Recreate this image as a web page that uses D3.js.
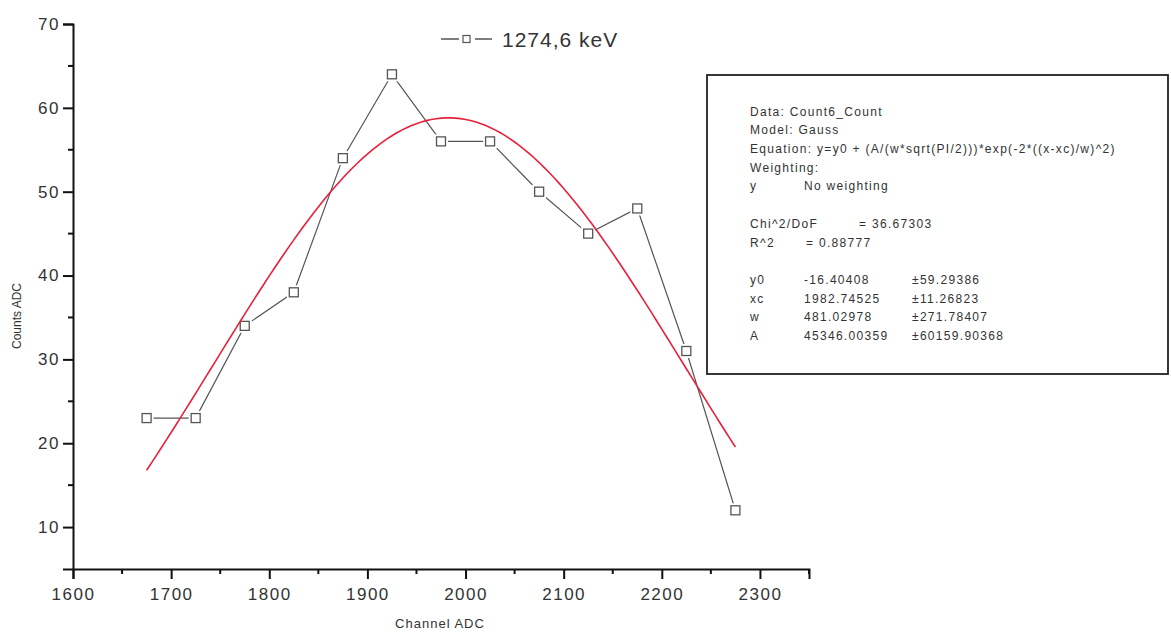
<!DOCTYPE html>
<html>
<head>
<meta charset="utf-8">
<script src="https://cdn.jsdelivr.net/npm/d3@7"></script>
<style>
  html, body { margin: 0; padding: 0; background: #fff; }
  svg { display: block; font-family: "Liberation Sans", Arial, sans-serif; }
</style>
</head>
<body>
<svg id="chart" width="1171" height="633"></svg>
<script>
// Measured spectrum around the 1274.6 keV peak
const channels = [1675, 1725, 1775, 1825, 1875, 1925, 1975, 2025, 2075, 2125, 2175, 2225, 2275];
const counts   = [23, 23, 34, 38, 54, 64, 56, 56, 50, 45, 48, 31, 12];

// Gauss fit parameters: y0, xc, w, A
const fitNames  = ["y0", "xc", "w", "A"];
const fitValues = [-16.40408, 1982.74525, 481.02978, 45346.00359];
const fitErrors = ["\u00b159.29386", "\u00b111.26823", "\u00b1271.78407", "\u00b160159.90368"];
const fitValueLabels = ["-16.40408", "1982.74525", "481.02978", "45346.00359"];

const xTicks = [1600, 1700, 1800, 1900, 2000, 2100, 2200, 2300];
const yTicks = [10, 20, 30, 40, 50, 60, 70];
const xMinor = [1650, 1750, 1850, 1950, 2050, 2150, 2250, 2350];
const yMinor = [15, 25, 35, 45, 55, 65];

const seriesName = "1274,6 keV";
const xTitle = "Channel ADC";
const yTitle = "Counts ADC";

const svg = d3.select("#chart");

const x = d3.scaleLinear().domain([1600, 2350]).range([73, 809]);
const y = d3.scaleLinear().domain([5, 70]).range([569, 24]);

const axisColor = "#111";
const labelColor = "#333";

// Fitted Gaussian evaluated across the data range
const [y0, xc, w, A] = fitValues;
const gauss = xv => y0 + (A / (w * Math.sqrt(Math.PI / 2))) * Math.exp(-2 * Math.pow((xv - xc) / w, 2));
const fitX = d3.range(channels[0], channels[channels.length - 1] + 0.001, 5);

// Data polyline
svg.append("path")
  .datum(channels.map((c, i) => [c, counts[i]]))
  .attr("fill", "none")
  .attr("stroke", "#555")
  .attr("stroke-width", 1.2)
  .attr("d", d3.line().x(d => x(d[0])).y(d => y(d[1])));

// Markers: white halo then hollow square
const marks = svg.append("g");
channels.forEach((c, i) => {
  marks.append("rect")
    .attr("x", x(c) - 7).attr("y", y(counts[i]) - 7)
    .attr("width", 14).attr("height", 14)
    .attr("fill", "#fff");
  marks.append("rect")
    .attr("x", x(c) - 4.5).attr("y", y(counts[i]) - 4.5)
    .attr("width", 9).attr("height", 9)
    .attr("fill", "#fff").attr("stroke", "#555").attr("stroke-width", 1.3);
});

// Fit curve
svg.append("path")
  .datum(fitX)
  .attr("fill", "none")
  .attr("stroke", "#e8203a")
  .attr("stroke-width", 1.6)
  .attr("d", d3.line().x(d => x(d)).y(d => y(gauss(d))));

// Axes
const xAxis = svg.append("g").attr("transform", "translate(0,569)");
xAxis.call(d3.axisBottom(x).tickValues(xTicks).tickSize(10).tickPadding(6).tickFormat(d3.format("d")));
xAxis.append("g").selectAll("line").data(xMinor).join("line")
  .attr("x1", d => x(d)).attr("x2", d => x(d)).attr("y1", 0).attr("y2", 5)
  .attr("stroke", axisColor).attr("stroke-width", 2);

const yAxis = svg.append("g").attr("transform", "translate(73,0)");
yAxis.call(d3.axisLeft(y).tickValues(yTicks).tickSize(10).tickPadding(3).tickFormat(d3.format("d")));
yAxis.append("g").selectAll("line").data(yMinor).join("line")
  .attr("x1", 0).attr("x2", -5).attr("y1", d => y(d)).attr("y2", d => y(d))
  .attr("stroke", axisColor).attr("stroke-width", 2);

[xAxis, yAxis].forEach(g => {
  g.select(".domain").attr("stroke", axisColor).attr("stroke-width", 2);
  g.selectAll(".tick line").attr("stroke", axisColor).attr("stroke-width", 2);
  g.selectAll(".tick text")
    .attr("fill", labelColor)
    .style("font-size", "17px")
    .style("letter-spacing", "1.5px")
    .style("font-family", "'Liberation Sans', Arial, sans-serif");
});
xAxis.selectAll(".tick text").attr("dy", "0.9em");

// Axis titles
svg.append("text")
  .attr("x", 440).attr("y", 628)
  .attr("text-anchor", "middle")
  .attr("fill", "#333")
  .style("font-size", "13px")
  .style("letter-spacing", "1px")
  .text(xTitle);

svg.append("text")
  .attr("transform", "translate(21,316) rotate(-90)")
  .attr("text-anchor", "middle")
  .attr("fill", "#333")
  .style("font-size", "12px")
  .text(yTitle);

// Legend
const lg = svg.append("g").attr("transform", "translate(441,39)");
lg.append("line").attr("x1", 0).attr("x2", 18).attr("y1", 0).attr("y2", 0)
  .attr("stroke", "#555").attr("stroke-width", 1.5);
lg.append("rect").attr("x", 22).attr("y", -3.5).attr("width", 7).attr("height", 7)
  .attr("fill", "#fff").attr("stroke", "#555").attr("stroke-width", 1.2);
lg.append("line").attr("x1", 34).attr("x2", 51).attr("y1", 0).attr("y2", 0)
  .attr("stroke", "#555").attr("stroke-width", 1.5);
lg.append("text").attr("x", 61).attr("y", 8)
  .attr("fill", "#333")
  .style("font-size", "21px")
  .style("letter-spacing", "1px")
  .text(seriesName);

// Fit report box
svg.append("rect")
  .attr("x", 707).attr("y", 75).attr("width", 461).attr("height", 299)
  .attr("fill", "#fff").attr("stroke", "#222").attr("stroke-width", 1.8);

const report = svg.append("g")
  .attr("fill", "#333")
  .style("font-size", "12px")
  .style("letter-spacing", "1.3px");

const col1 = 750, col2 = 804, col3 = 912;
const rows = [
  { y: 116, cells: [[col1, "Data: Count6_Count"]] },
  { y: 134, cells: [[col1, "Model: Gauss"]] },
  { y: 153, cells: [[col1, "Equation: y=y0 + (A/(w*sqrt(PI/2)))*exp(-2*((x-xc)/w)^2)"]] },
  { y: 172, cells: [[col1, "Weighting:"]] },
  { y: 190, cells: [[col1, "y"], [col2, "No weighting"]] },
  { y: 228, cells: [[col1, "Chi^2/DoF"], [859, "= 36.67303"]] },
  { y: 247, cells: [[col1, "R^2"], [806, "= 0.88777"]] }
];
fitNames.forEach((n, i) => {
  rows.push({ y: 284 + i * 18.7, cells: [[col1, n], [col2, fitValueLabels[i]], [col3, fitErrors[i]]] });
});
rows.forEach(r => {
  r.cells.forEach(([cx, t]) => {
    report.append("text").attr("x", cx).attr("y", r.y).text(t);
  });
});
</script>
</body>
</html>
